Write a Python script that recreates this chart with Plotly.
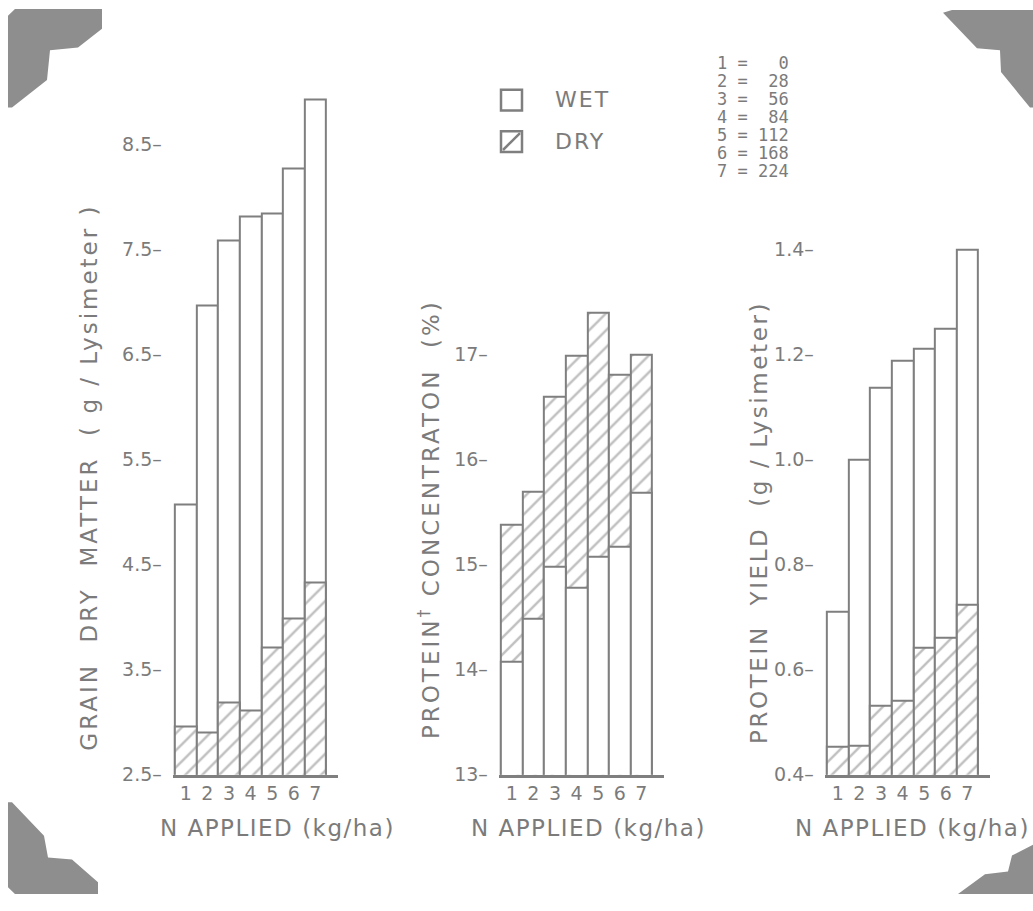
import plotly.graph_objects as go

# ---------------- data ----------------
levels = [1, 2, 3, 4, 5, 6, 7]
level_labels = ["1", "2", "3", "4", "5", "6", "7"]
n_rates = [0, 28, 56, 84, 112, 168, 224]

grain_wet = [5.07, 6.96, 7.58, 7.81, 7.84, 8.27, 8.92]
grain_dry = [2.96, 2.90, 3.19, 3.11, 3.71, 3.99, 4.33]

prot_wet = [14.07, 14.48, 14.98, 14.78, 15.07, 15.17, 15.68]
prot_dry = [15.38, 15.69, 16.60, 16.99, 17.40, 16.81, 17.00]

yield_wet = [0.71, 1.00, 1.137, 1.188, 1.21, 1.248, 1.40]
yield_dry = [0.453, 0.456, 0.532, 0.541, 0.642, 0.66, 0.724]

grain_ticks = [2.5, 3.5, 4.5, 5.5, 6.5, 7.5, 8.5]
prot_ticks = [13, 14, 15, 16, 17]
yield_ticks = [0.4, 0.6, 0.8, 1.0, 1.2, 1.4]

legend_names = ["WET", "DRY"]

# ---------------- style ----------------
W, H = 1033, 911
GRAY = "#7f7f7f"
TXT = "#7b7b7b"
FONT = "DejaVu Sans"


def px(x):
    return x / W


def py(y):
    return 1 - y / H


wet_style = dict(color="white", line=dict(color=GRAY, width=2))
dry_style = dict(color="white", line=dict(color=GRAY, width=2),
                 pattern=dict(shape="/", fgcolor=GRAY, bgcolor="white",
                              size=12, solidity=0.2))

fig = go.Figure()


def add_pair(xa, ya, wet, dry, dry_behind):
    wet_tr = go.Bar(x=levels, y=wet, width=1, marker=wet_style,
                    name=legend_names[0], xaxis=xa, yaxis=ya, showlegend=False)
    dry_tr = go.Bar(x=levels, y=dry, width=1, marker=dry_style,
                    name=legend_names[1], xaxis=xa, yaxis=ya, showlegend=False)
    if dry_behind:
        fig.add_trace(dry_tr)
        fig.add_trace(wet_tr)
    else:
        fig.add_trace(wet_tr)
        fig.add_trace(dry_tr)


add_pair("x", "y", grain_wet, grain_dry, False)
add_pair("x2", "y2", prot_wet, prot_dry, True)
add_pair("x3", "y3", yield_wet, yield_dry, False)

base_y = 784
unit = 106.5  # px per tick step
xrange = [0.4, 8.05]
xw = (xrange[1] - xrange[0]) * 21.6

panels = [
    # (bar-left px, y range, tick values, tick step, label format)
    (175, [2.5, 9.0], grain_ticks, 1.0, "{:.1f}–"),
    (501, [13, 17.5], prot_ticks, 1.0, "{:d}–"),
    (827, [0.4, 1.42], yield_ticks, 0.2, "{:.1f}–"),
]

layout_axes = {}
for i, (left, yr, tv, step, fmt) in enumerate(panels):
    sfx = "" if i == 0 else str(i + 1)
    x0 = left - 0.1 * 21.6
    top = base_y - (yr[1] - yr[0]) / step * unit
    layout_axes["xaxis" + sfx] = dict(
        domain=[px(x0), px(x0 + xw)], range=xrange, anchor="y" + sfx,
        showline=True, linecolor=GRAY, linewidth=2.5, showgrid=False,
        zeroline=False, tickmode="array", tickvals=levels,
        ticktext=level_labels, ticks="",
        tickfont=dict(family=FONT, size=19, color=TXT),
    )
    layout_axes["yaxis" + sfx] = dict(
        domain=[py(base_y), py(top)], range=yr, anchor="x" + sfx,
        showline=False, showgrid=False, zeroline=False,
        tickmode="array", tickvals=tv, ticktext=[fmt.format(v) for v in tv],
        ticks="", ticklabelstandoff=10,
        tickfont=dict(family=FONT, size=19, color=TXT),
    )

annotations = []


def ann(text, x, y, size=22, angle=0, xanchor="center", family=FONT,
        align="center"):
    annotations.append(dict(
        text=text, x=px(x), y=py(y), xref="paper", yref="paper",
        showarrow=False, textangle=angle, xanchor=xanchor, yanchor="middle",
        align=align, font=dict(family=family, size=size, color=TXT)))


def spaced(text, ls):
    return f'<span style="letter-spacing:{ls}px">{text}</span>'


ann(spaced("GRAIN  DRY  MATTER  ( g / Lysimeter )", 3), 89, 483, size=23, angle=-90)
ann(spaced("PROTEIN<sup>†</sup> CONCENTRATON  (%)", 3), 429, 525, size=23, angle=-90)
ann(spaced("PROTEIN  YIELD  (g / Lysimeter)", 2.6), 759, 529, size=23, angle=-90)

for cx, anchor in [(277, "center"), (588, "center"), (793, "left")]:
    ann(spaced("N APPLIED (kg/ha)", 1.5), cx, 838, size=23, xanchor=anchor)

# N-rate key: one line per level, 18.2 px apart
for i, (lv, r) in enumerate(zip(level_labels, n_rates)):
    ann(f"{lv} ={r:>4}", 791, 63 + i * 18.2, size=17, xanchor="right",
        family="DejaVu Sans Mono")

# legend text
ann(spaced(legend_names[0], 2), 553, 100, size=22, xanchor="left")
ann(spaced(legend_names[1], 2), 553, 142, size=22, xanchor="left")

shapes = []
# legend boxes
shapes.append(dict(type="rect", xref="paper", yref="paper",
                   x0=px(501), x1=px(522), y0=py(111), y1=py(90),
                   line=dict(color=GRAY, width=2.5), fillcolor="white"))
shapes.append(dict(type="rect", xref="paper", yref="paper",
                   x0=px(501), x1=px(522), y0=py(153), y1=py(132),
                   line=dict(color=GRAY, width=2.5), fillcolor="white"))
shapes.append(dict(type="line", xref="paper", yref="paper",
                   x0=px(503), x1=px(520), y0=py(151), y1=py(134),
                   line=dict(color=GRAY, width=2.5)))

# photo mounting corners (decoration)
corner = "#8e8e8e"
corner_pts = [
    [(8, 15), (15, 8), (102, 8), (102, 28), (78, 47), (50, 50), (47, 80),
     (12, 108), (8, 108)],
    [(943, 12), (952, 9), (1033, 9), (1033, 108), (1030, 108), (1001, 72),
     (1000, 50), (977, 48)],
    [(8, 812), (12, 812), (44, 846), (48, 868), (72, 870), (98, 893),
     (98, 905), (15, 905), (8, 898)],
    [(1033, 855), (1012, 866), (1008, 882), (985, 885), (958, 905),
     (1033, 905)],
]
for pts in corner_pts:
    path = "M " + " L ".join(f"{px(a):.5f} {py(b):.5f}" for a, b in pts) + " Z"
    shapes.append(dict(type="path", xref="paper", yref="paper",
                       line=dict(width=0), fillcolor=corner, path=path))

fig.update_layout(
    width=W, height=H, margin=dict(l=0, r=0, t=0, b=0),
    paper_bgcolor="white", plot_bgcolor="white",
    barmode="overlay", bargap=0,
    showlegend=False,
    annotations=annotations, shapes=shapes,
    **layout_axes,
)

fig.write_html("out.html", config={"displayModeBar": False},
               post_script="document.body.style.margin='0';")
